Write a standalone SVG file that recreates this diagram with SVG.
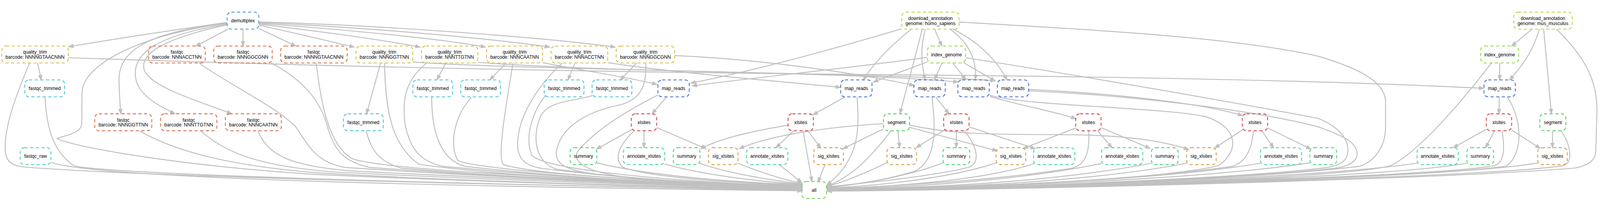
<svg xmlns="http://www.w3.org/2000/svg" width="4544" height="539" viewBox="0 0 4544 539">
<style>
svg{width:100vw;height:100vh}
.node rect{fill:none;stroke-width:2.67;stroke-dasharray:9,7}
.node text{font-family:'Liberation Sans',Arial,sans-serif;font-size:13.33px;fill:#000;text-anchor:middle}
.e{fill:none;stroke:#c0c0c0;stroke-width:2.67;marker-end:url(#ah)}
.c-demux rect{stroke:#57a5d9}
.c-qt rect{stroke:#d9c557}
.c-fq rect{stroke:#d97c57}
.c-ft rect{stroke:#57c8d9}
.c-raw rect{stroke:#57d9c6}
.c-dl rect{stroke:#c4d957}
.c-ig rect{stroke:#a0d957}
.c-mr rect{stroke:#5779d9}
.c-xl rect{stroke:#d95757}
.c-seg rect{stroke:#57d95f}
.c-sx rect{stroke:#d9a557}
.c-an rect{stroke:#57d9a3}
.c-sm rect{stroke:#57d983}
.c-all rect{stroke:#7bd957}
</style>
<defs>
<marker id="ah" markerUnits="userSpaceOnUse" markerWidth="16" markerHeight="14" viewBox="-1 -1 16 14" refX="13" refY="6" orient="auto">
<path d="M0,1.3 L13,6 L0,10.7 z" fill="#c0c0c0" stroke="#c0c0c0" stroke-width="2"/>
</marker>
</defs>
<rect x="0" y="0" width="4544" height="539" fill="#fff"/>
<g id="edges">
<path class="e" d="M645,34 C520,52 330,80 195,103"/>
<path class="e" d="M648,53 L556,101"/>
<path class="e" d="M690,53 L690,101"/>
<path class="e" d="M735,51 L840,101"/>
<path class="e" d="M735,42 C830,62 930,86 1006,104"/>
<path class="e" d="M735,39 C900,58 1090,84 1193,104"/>
<path class="e" d="M735,37 C960,52 1250,80 1379,104"/>
<path class="e" d="M735,35 C1020,46 1400,80 1561,104"/>
<path class="e" d="M735,33 C1060,40 1560,78 1747,104"/>
<path class="e" d="M645,37 C430,60 335,110 338,200 C339,240 341,270 343,293"/>
<path class="e" d="M645,39 C450,70 375,120 385,190 C392,240 450,270 497,293"/>
<path class="e" d="M645,41 C460,80 395,125 410,170 C430,220 580,262 658,293"/>
<path class="e" d="M645,36 C400,70 240,150 233,230 L232,320 C232,350 180,355 162,363 C200,385 500,440 900,465 C1500,492 2000,502 2278,508"/>
<path class="e" d="M107,149 L117,197"/>
<path class="e" d="M84,149 C50,230 10,330 15,400 C18,430 35,438 60,443 C400,472 1500,496 2278,509"/>
<path class="e" d="M194,134 C800,155 1600,175 2600,183 C3400,190 3900,205 4214,221"/>
<path class="e" d="M128,246 C132,330 150,400 210,440 C300,465 1300,492 2278,510"/>
<path class="e" d="M145,431 C300,482 1500,502 2278,511"/>
<path class="e" d="M397,342 C500,400 650,440 900,460 C1400,490 2000,500 2278,507"/>
<path class="e" d="M570,342 C640,400 720,440 950,458 C1500,486 2000,498 2278,506"/>
<path class="e" d="M732,342 C760,400 800,440 1000,455 C1500,481 2000,496 2278,505"/>
<path class="e" d="M565,149 C650,210 780,270 840,330 C880,390 900,430 980,445 C1500,480 2000,495 2278,504"/>
<path class="e" d="M770,149 C850,190 910,250 930,330 C950,400 980,430 1050,445 C1500,478 2000,494 2278,503"/>
<path class="e" d="M898,149 C910,250 930,380 1000,420 C1060,445 1500,476 2278,502"/>
<path class="e" d="M1081,149 L1041,293"/>
<path class="e" d="M1040,342 C1055,400 1080,430 1140,447 C1600,486 2000,496 2278,503"/>
<path class="e" d="M1092,149 C1095,280 1110,380 1190,436 C1500,480 2000,493 2278,502"/>
<path class="e" d="M1172,146 C1500,170 2400,172 2721,203"/>
<path class="e" d="M1266,149 L1241,197"/>
<path class="e" d="M1212,149 C1160,190 1140,240 1150,320 C1165,400 1200,430 1260,442 C1700,485 2000,492 2278,501"/>
<path class="e" d="M1226,246 C1226,320 1240,420 1320,442 C1700,484 2000,492 2278,501"/>
<path class="e" d="M1357,147 C1700,175 2500,178 2826,199"/>
<path class="e" d="M1437,149 L1391,197"/>
<path class="e" d="M1339,246 C1290,300 1275,380 1300,425 C1330,445 1700,480 2278,500"/>
<path class="e" d="M1457,149 C1440,250 1410,420 1430,437 C1500,460 1800,485 2278,500"/>
<path class="e" d="M1541,148 C1650,170 1790,190 1866,210"/>
<path class="e" d="M1633,149 L1613,197"/>
<path class="e" d="M1597,149 C1530,210 1470,300 1470,380 C1470,420 1490,440 1540,448 C1800,480 2000,490 2278,499"/>
<path class="e" d="M1550,240 C1510,290 1490,360 1510,410 C1540,445 1800,480 2278,499"/>
<path class="e" d="M1726,148 C1900,175 2200,200 2387,218"/>
<path class="e" d="M1808,149 L1762,197"/>
<path class="e" d="M1684,241 C1620,260 1560,255 1535,300 C1510,360 1520,430 1580,450 C1800,480 2000,490 2278,498"/>
<path class="e" d="M1834,149 C1835,200 1830,250 1760,268 C1650,290 1590,340 1580,400 C1575,440 1620,455 1700,465 C1900,485 2100,495 2278,497"/>
<path class="e" d="M1916,128 C2200,140 2500,190 2596,213"/>
<path class="e" d="M1893,245 L1852,293"/>
<path class="e" d="M1870,239 C1790,280 1700,330 1640,400 C1620,440 1700,465 1800,475 C2000,490 2150,495 2278,496"/>
<path class="e" d="M2561,52 C2400,100 2150,170 1962,206"/>
<path class="e" d="M2634,133 C2400,165 2100,195 1966,214"/>
<path class="e" d="M1796,337 L1694,393"/>
<path class="e" d="M1829,342 L1829,389"/>
<path class="e" d="M1865,332 L2005,392"/>
<path class="e" d="M1800,342 C1760,380 1740,420 1770,445 C1850,475 2100,490 2278,495"/>
<path class="e" d="M1695,432 C1850,470 2100,488 2278,494"/>
<path class="e" d="M1887,435 C1990,465 2150,485 2278,493"/>
<path class="e" d="M1987,433 C2060,460 2180,480 2278,492"/>
<path class="e" d="M2095,433 C2150,455 2220,478 2278,491"/>
<path class="e" d="M2213,437 L2277,488"/>
<path class="e" d="M2240,325 C2150,340 2050,360 1990,392"/>
<path class="e" d="M2253,342 L2204,389"/>
<path class="e" d="M2295,342 L2331,390"/>
<path class="e" d="M2281,342 L2306,485"/>
<path class="e" d="M2400,245 L2309,296"/>
<path class="e" d="M2434,246 C2440,330 2445,420 2348,495"/>
<path class="e" d="M2343,437 L2323,487"/>
<path class="e" d="M2588,53 C2530,100 2480,150 2452,197"/>
<path class="e" d="M2634,146 L2480,203"/>
<path class="e" d="M2509,321 C2350,330 2180,355 2100,392"/>
<path class="e" d="M2509,336 L2394,392"/>
<path class="e" d="M2550,342 L2555,389"/>
<path class="e" d="M2582,331 L2832,398"/>
<path class="e" d="M2582,325 C2700,350 2800,352 3000,352 C3200,352 3300,370 3376,394"/>
<path class="e" d="M2530,342 C2470,420 2420,470 2349,498"/>
<path class="e" d="M2619,53 C2600,130 2575,220 2556,292"/>
<path class="e" d="M2684,338 L2602,389"/>
<path class="e" d="M2716,342 L2716,389"/>
<path class="e" d="M2752,330 L2940,392"/>
<path class="e" d="M2740,342 C2770,380 2790,430 2750,445 C2650,470 2450,490 2349,500"/>
<path class="e" d="M2658,246 L2695,293"/>
<path class="e" d="M2647,246 C2655,320 2665,420 2600,455 C2520,480 2420,495 2349,501"/>
<path class="e" d="M2520,431 C2460,460 2400,485 2349,499"/>
<path class="e" d="M2679,432 C2580,470 2450,492 2349,502"/>
<path class="e" d="M2830,432 C2700,475 2500,497 2349,503"/>
<path class="e" d="M2937,434 C2800,480 2550,500 2349,504"/>
<path class="e" d="M2628,53 C2615,100 2615,150 2628,196"/>
<path class="e" d="M2675,149 L2654,196"/>
<path class="e" d="M2706,149 L2743,196"/>
<path class="e" d="M2698,53 C2750,90 2775,140 2770,196"/>
<path class="e" d="M2736,148 L2826,200"/>
<path class="e" d="M2705,52 C2780,90 2830,140 2860,197"/>
<path class="e" d="M2654,53 L2675,101"/>
<path class="e" d="M3056,333 L2906,391"/>
<path class="e" d="M3117,341 L3158,389"/>
<path class="e" d="M3127,332 L3266,391"/>
<path class="e" d="M3092,342 C3095,400 3085,440 3040,448 C2800,485 2500,500 2349,505"/>
<path class="e" d="M3128,434 C2900,480 2600,502 2349,506"/>
<path class="e" d="M3270,433 C3000,485 2650,503 2349,507"/>
<path class="e" d="M3371,433 C3100,485 2700,504 2349,508"/>
<path class="e" d="M2811,244 C2900,270 2990,285 3056,307"/>
<path class="e" d="M2810,240 C2900,270 3300,275 3420,300 C3520,330 3520,400 3460,440 C3300,480 2700,505 2349,509"/>
<path class="e" d="M2922,224 C3150,235 3400,260 3529,298"/>
<path class="e" d="M2922,228 C3200,240 3550,280 3744,330 C3830,360 3856,380 3854,410 C3852,430 3830,440 3800,446 C3500,482 2700,506 2349,511"/>
<path class="e" d="M2742,134 C3100,190 3500,260 3744,306 C3800,330 3830,360 3828,400 C3826,430 3800,440 3770,445 C3500,480 2700,506 2349,511"/>
<path class="e" d="M2724,33 C3100,55 3500,75 3744,130 C3880,170 3935,210 3935,260 L3935,330 C3935,390 3900,430 3860,442 C3500,485 2700,508 2349,512"/>
<path class="e" d="M3531,337 L3450,390"/>
<path class="e" d="M3584,342 L3617,389"/>
<path class="e" d="M3600,333 L3723,393"/>
<path class="e" d="M3560,342 C3555,390 3540,430 3500,442 C3200,485 2700,505 2349,507"/>
<path class="e" d="M3580,433 C3300,482 2700,505 2349,507"/>
<path class="e" d="M3720,432 C3400,482 2700,505 2349,508"/>
<path class="e" d="M4351,53 L4293,101"/>
<path class="e" d="M4372,53 C4355,110 4330,150 4287,197"/>
<path class="e" d="M4384,53 L4406,293"/>
<path class="e" d="M4420,53 C4500,130 4540,200 4535,300 L4532,400 C4530,430 4500,445 4460,448 C4000,482 2800,510 2349,512"/>
<path class="e" d="M4259,149 L4259,197"/>
<path class="e" d="M4236,149 C4150,260 4030,400 3950,440 C3800,480 2800,506 2349,510"/>
<path class="e" d="M4258,245 L4257,293"/>
<path class="e" d="M4280,245 C4320,300 4330,400 4280,440 C4100,476 2800,505 2349,509"/>
<path class="e" d="M4221,337 L4127,389"/>
<path class="e" d="M4244,342 L4219,389"/>
<path class="e" d="M4293,339 L4374,391"/>
<path class="e" d="M4266,342 C4275,400 4270,430 4245,440 C4050,475 2800,505 2349,508"/>
<path class="e" d="M4409,342 L4409,389"/>
<path class="e" d="M4434,342 C4460,380 4470,430 4440,440 C4200,476 2800,507 2349,511"/>
<path class="e" d="M4025,433 C3700,480 2800,505 2349,508"/>
<path class="e" d="M4167,433 C3900,480 2800,505 2349,508"/>
<path class="e" d="M4368,432 C4100,480 2800,506 2349,510"/>
</g>
<g id="demultiplex" class="node c-demux"><rect x="645" y="5" width="90" height="48" rx="12"/><text x="690" y="34">demultiplex</text></g>
<g id="download_annotation_hs" class="node c-dl"><rect x="2561" y="5" width="163" height="48" rx="12"/><text x="2642.5" y="27">download_annotation</text><text x="2642.5" y="41">genome: homo_sapiens</text></g>
<g id="download_annotation_mm" class="node c-dl"><rect x="4299" y="5" width="166" height="48" rx="12"/><text x="4382" y="27">download_annotation</text><text x="4382" y="41">genome: mus_musculus</text></g>
<g id="quality_trim_1" class="node c-qt"><rect x="5" y="101" width="189" height="48" rx="12"/><text x="99.5" y="123">quality_trim</text><text x="99.5" y="137">barcode: NNNNGTAACNNN</text></g>
<g id="fastqc_1" class="node c-fq"><rect x="422" y="101" width="161" height="48" rx="12"/><text x="502.5" y="123">fastqc</text><text x="502.5" y="137">barcode: NNNACCTNN</text></g>
<g id="fastqc_2" class="node c-fq"><rect x="607" y="101" width="166" height="48" rx="12"/><text x="690" y="123">fastqc</text><text x="690" y="137">barcode: NNNGGCGNN</text></g>
<g id="fastqc_3" class="node c-fq"><rect x="797" y="101" width="189" height="48" rx="12"/><text x="891.5" y="123">fastqc</text><text x="891.5" y="137">barcode: NNNNGTAACNNN</text></g>
<g id="quality_trim_2" class="node c-qt"><rect x="1011" y="101" width="161" height="48" rx="12"/><text x="1091.5" y="123">quality_trim</text><text x="1091.5" y="137">barcode: NNNGGTTNN</text></g>
<g id="quality_trim_3" class="node c-qt"><rect x="1197" y="101" width="160" height="48" rx="12"/><text x="1277" y="123">quality_trim</text><text x="1277" y="137">barcode: NNNTTGTNN</text></g>
<g id="quality_trim_4" class="node c-qt"><rect x="1382" y="101" width="159" height="48" rx="12"/><text x="1461.5" y="123">quality_trim</text><text x="1461.5" y="137">barcode: NNNCAATNN</text></g>
<g id="quality_trim_5" class="node c-qt"><rect x="1565" y="101" width="161" height="48" rx="12"/><text x="1645.5" y="123">quality_trim</text><text x="1645.5" y="137">barcode: NNNACCTNN</text></g>
<g id="quality_trim_6" class="node c-qt"><rect x="1750" y="101" width="166" height="48" rx="12"/><text x="1833" y="123">quality_trim</text><text x="1833" y="137">barcode: NNNGGCGNN</text></g>
<g id="index_genome_hs" class="node c-ig"><rect x="2634" y="101" width="108" height="48" rx="12"/><text x="2688" y="130">index_genome</text></g>
<g id="index_genome_mm" class="node c-ig"><rect x="4205" y="101" width="108" height="48" rx="12"/><text x="4259" y="130">index_genome</text></g>
<g id="fastqc_trimmed_1" class="node c-ft"><rect x="70.5" y="197" width="113" height="48" rx="12"/><text x="127" y="226">fastqc_trimmed</text></g>
<g id="fastqc_trimmed_3" class="node c-ft"><rect x="1172.5" y="197" width="113" height="48" rx="12"/><text x="1229" y="226">fastqc_trimmed</text></g>
<g id="fastqc_trimmed_4" class="node c-ft"><rect x="1308.5" y="197" width="113" height="48" rx="12"/><text x="1365" y="226">fastqc_trimmed</text></g>
<g id="fastqc_trimmed_5" class="node c-ft"><rect x="1545.5" y="197" width="113" height="48" rx="12"/><text x="1602" y="226">fastqc_trimmed</text></g>
<g id="fastqc_trimmed_6" class="node c-ft"><rect x="1681.5" y="197" width="113" height="48" rx="12"/><text x="1738" y="226">fastqc_trimmed</text></g>
<g id="map_reads_1" class="node c-mr"><rect x="1868.5" y="197" width="89" height="48" rx="12"/><text x="1913" y="226">map_reads</text></g>
<g id="map_reads_2" class="node c-mr"><rect x="2387.5" y="197" width="89" height="48" rx="12"/><text x="2432" y="226">map_reads</text></g>
<g id="map_reads_3" class="node c-mr"><rect x="2595.5" y="197" width="89" height="48" rx="12"/><text x="2640" y="226">map_reads</text></g>
<g id="map_reads_4" class="node c-mr"><rect x="2720.5" y="197" width="89" height="48" rx="12"/><text x="2765" y="226">map_reads</text></g>
<g id="map_reads_5" class="node c-mr"><rect x="2832.5" y="197" width="89" height="48" rx="12"/><text x="2877" y="226">map_reads</text></g>
<g id="map_reads_6" class="node c-mr"><rect x="4214.5" y="197" width="89" height="48" rx="12"/><text x="4259" y="226">map_reads</text></g>
<g id="fastqc_4" class="node c-fq"><rect x="269" y="293" width="162" height="48" rx="12"/><text x="350" y="315">fastqc</text><text x="350" y="329">barcode: NNNGGTTNN</text></g>
<g id="fastqc_5" class="node c-fq"><rect x="456" y="293" width="160" height="48" rx="12"/><text x="536" y="315">fastqc</text><text x="536" y="329">barcode: NNNTTGTNN</text></g>
<g id="fastqc_6" class="node c-fq"><rect x="640" y="293" width="159" height="48" rx="12"/><text x="719.5" y="315">fastqc</text><text x="719.5" y="329">barcode: NNNCAATNN</text></g>
<g id="fastqc_trimmed_2" class="node c-ft"><rect x="975.5" y="293" width="113" height="48" rx="12"/><text x="1032" y="322">fastqc_trimmed</text></g>
<g id="xlsites_1" class="node c-xl"><rect x="1793" y="293" width="72" height="48" rx="12"/><text x="1829" y="322">xlsites</text></g>
<g id="xlsites_2" class="node c-xl"><rect x="2238" y="293" width="72" height="48" rx="12"/><text x="2274" y="322">xlsites</text></g>
<g id="segment_hs" class="node c-seg"><rect x="2509" y="293" width="74" height="48" rx="12"/><text x="2546" y="322">segment</text></g>
<g id="xlsites_3" class="node c-xl"><rect x="2680" y="293" width="72" height="48" rx="12"/><text x="2716" y="322">xlsites</text></g>
<g id="xlsites_4" class="node c-xl"><rect x="3055" y="293" width="72" height="48" rx="12"/><text x="3091" y="322">xlsites</text></g>
<g id="xlsites_5" class="node c-xl"><rect x="3528" y="293" width="72" height="48" rx="12"/><text x="3564" y="322">xlsites</text></g>
<g id="xlsites_6" class="node c-xl"><rect x="4221" y="293" width="72" height="48" rx="12"/><text x="4257" y="322">xlsites</text></g>
<g id="segment_mm" class="node c-seg"><rect x="4373" y="293" width="74" height="48" rx="12"/><text x="4410" y="322">segment</text></g>
<g id="fastqc_raw" class="node c-raw"><rect x="57.5" y="389" width="87" height="48" rx="12"/><text x="101" y="418">fastqc_raw</text></g>
<g id="summary_1" class="node c-sm"><rect x="1619" y="389" width="76" height="48" rx="12"/><text x="1657" y="418">summary</text></g>
<g id="annotate_xlsites_1" class="node c-an"><rect x="1770.5" y="389" width="117" height="48" rx="12"/><text x="1829" y="418">annotate_xlsites</text></g>
<g id="summary_2" class="node c-sm"><rect x="1912" y="389" width="76" height="48" rx="12"/><text x="1950" y="418">summary</text></g>
<g id="sig_xlsites_1" class="node c-sx"><rect x="2012" y="389" width="84" height="48" rx="12"/><text x="2054" y="418">sig_xlsites</text></g>
<g id="annotate_xlsites_2" class="node c-an"><rect x="2120.5" y="389" width="117" height="48" rx="12"/><text x="2179" y="418">annotate_xlsites</text></g>
<g id="sig_xlsites_2" class="node c-sx"><rect x="2311" y="389" width="84" height="48" rx="12"/><text x="2353" y="418">sig_xlsites</text></g>
<g id="sig_xlsites_3" class="node c-sx"><rect x="2519" y="389" width="84" height="48" rx="12"/><text x="2561" y="418">sig_xlsites</text></g>
<g id="summary_3" class="node c-sm"><rect x="2678" y="389" width="76" height="48" rx="12"/><text x="2716" y="418">summary</text></g>
<g id="sig_xlsites_4" class="node c-sx"><rect x="2829" y="389" width="84" height="48" rx="12"/><text x="2871" y="418">sig_xlsites</text></g>
<g id="annotate_xlsites_3" class="node c-an"><rect x="2935.5" y="389" width="117" height="48" rx="12"/><text x="2994" y="418">annotate_xlsites</text></g>
<g id="annotate_xlsites_4" class="node c-an"><rect x="3128.5" y="389" width="117" height="48" rx="12"/><text x="3187" y="418">annotate_xlsites</text></g>
<g id="summary_4" class="node c-sm"><rect x="3270" y="389" width="76" height="48" rx="12"/><text x="3308" y="418">summary</text></g>
<g id="sig_xlsites_5" class="node c-sx"><rect x="3370" y="389" width="84" height="48" rx="12"/><text x="3412" y="418">sig_xlsites</text></g>
<g id="annotate_xlsites_5" class="node c-an"><rect x="3579.5" y="389" width="117" height="48" rx="12"/><text x="3638" y="418">annotate_xlsites</text></g>
<g id="summary_5" class="node c-sm"><rect x="3720" y="389" width="76" height="48" rx="12"/><text x="3758" y="418">summary</text></g>
<g id="annotate_xlsites_6" class="node c-an"><rect x="4024.5" y="389" width="117" height="48" rx="12"/><text x="4083" y="418">annotate_xlsites</text></g>
<g id="summary_6" class="node c-sm"><rect x="4166" y="389" width="76" height="48" rx="12"/><text x="4204" y="418">summary</text></g>
<g id="sig_xlsites_6" class="node c-sx"><rect x="4367" y="389" width="84" height="48" rx="12"/><text x="4409" y="418">sig_xlsites</text></g>
<g id="all" class="node c-all"><rect x="2277" y="485" width="70" height="48" rx="12"/><text x="2312" y="514">all</text></g>
</svg>
